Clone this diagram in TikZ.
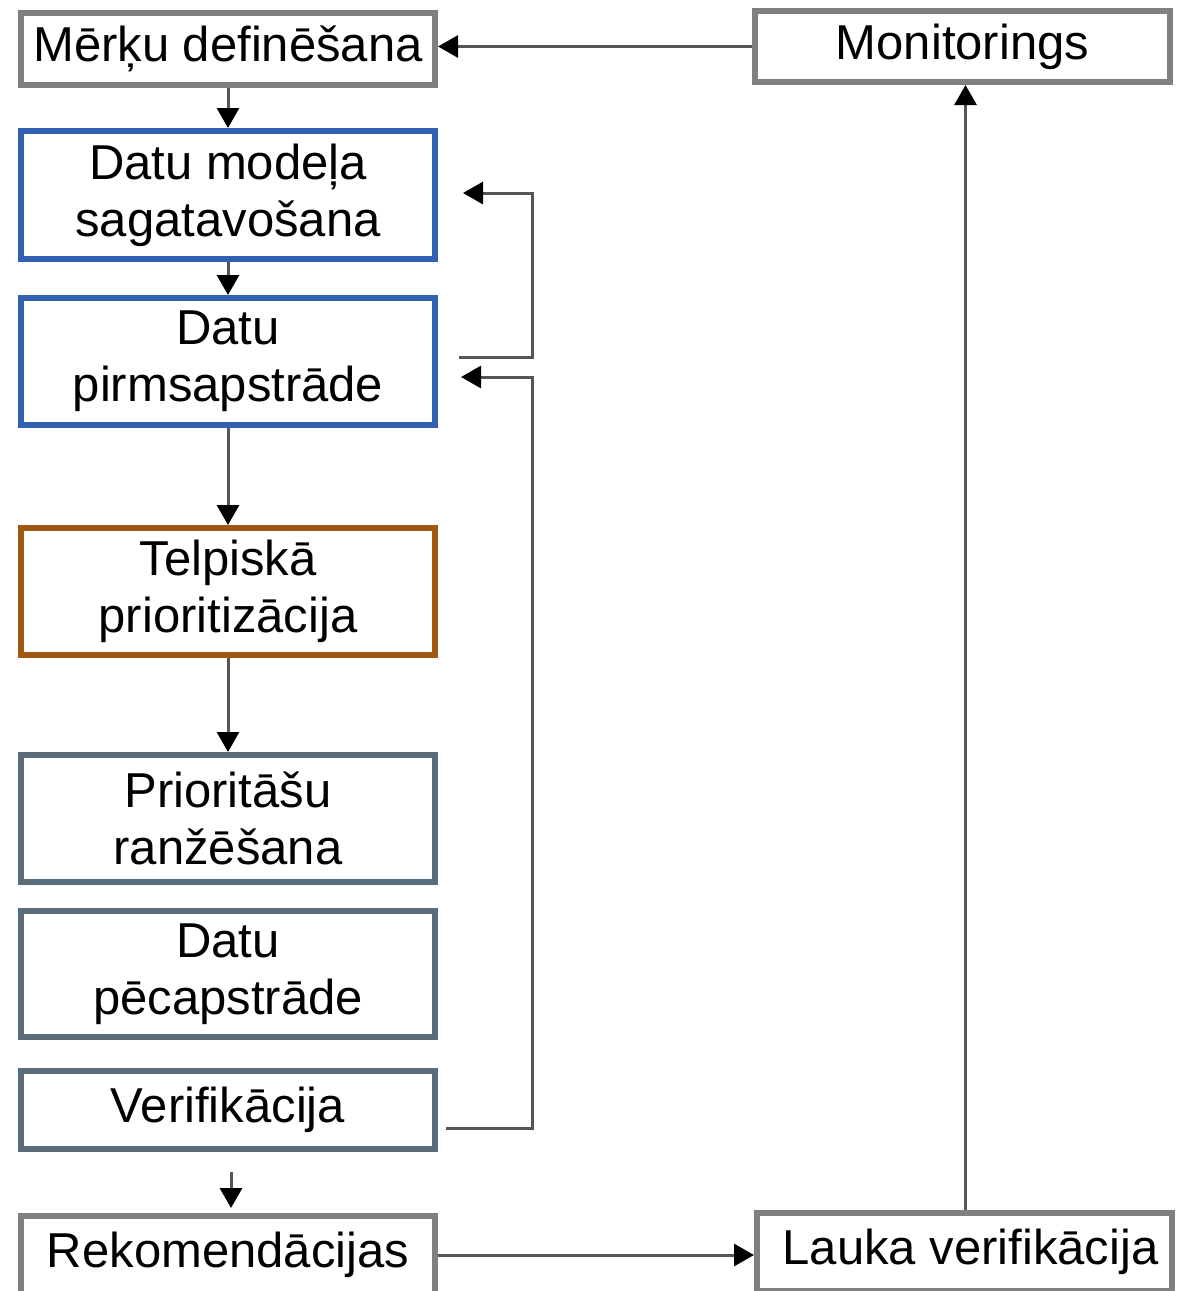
\documentclass[tikz,border=0pt]{standalone}
\usepackage{fontspec}
\setmainfont{Liberation Sans}
\usetikzlibrary{arrows.meta}
\definecolor{boxgray}{RGB}{128,128,128}
\definecolor{boxblue}{RGB}{50,96,178}
\definecolor{boxbrown}{RGB}{160,88,18}
\definecolor{boxslate}{RGB}{90,108,122}
\definecolor{linegray}{RGB}{85,85,85}
\begin{document}
\begin{tikzpicture}[x=1pt,y=-1pt,
  box/.style={draw, line width=6pt, fill=white, minimum width=414pt,
    align=center, inner sep=0pt, font=\fontsize{49}{57}\selectfont},
  graybox/.style={box, draw=boxgray},
  bluebox/.style={box, draw=boxblue},
  brownbox/.style={box, draw=boxbrown},
  slatebox/.style={box, draw=boxslate},
  conn/.style={draw=linegray, line width=3pt,
    -{Triangle[length=20pt,width=22pt,color=black]}}]
\fill[white] (0,0) rectangle (1181,1291);
\useasboundingbox (0,0) rectangle (1181,1291);
\clip (0,0) rectangle (1181,1291);

% left column of process steps
\node[graybox,  minimum height=72pt]  (merk)  at (228,49)    {Mērķu definēšana};
\node[bluebox,  minimum height=128pt] (dmod)  at (228,195)   {Datu modeļa\\sagatavošana};
\node[bluebox,  minimum height=127pt] (pirm)  at (228,361.5) {Datu\\pirmsapstrāde};
\node[brownbox, minimum height=127pt] (telp)  at (228,591.5) {Telpiskā\\prioritizācija};
\node[slatebox, minimum height=127pt] (rank)  at (228,818.5) {Prioritāšu\\ranžēšana};
\node[slatebox, minimum height=126pt] (pec)   at (228,974)   {Datu\\pēcapstrāde};
\node[slatebox, minimum height=78pt]  (verif) at (228,1110)  {Verifikācija};
\node[graybox,  minimum height=78pt]  (rek)   at (228,1255)  {Rekomendācijas};

% right column
\node[graybox, minimum width=415pt, minimum height=71pt] (mon)   at (962.5,46.5) {Monitorings};
\node[graybox, minimum width=415pt, minimum height=78pt] (lauka) at (964.5,1252) {\hspace*{12pt}Lauka verifikācija};

% feedback rail
\coordinate (rail)   at (532,0);
\coordinate (l1from) at (459,357);
\coordinate (l1to)   at (463,193);
\coordinate (l2from) at (446,1128);
\coordinate (l2to)   at (461,377);

% main flow
\draw[conn] (merk.south) -- (dmod.north);
\draw[conn] (dmod.south) -- (pirm.north);
\draw[conn] (pirm.south) -- (telp.north);
\draw[conn] (telp.south) -- (rank.north);
\draw[conn, shorten <=20pt, shorten >=5pt] ([xshift=3pt]verif.south) -- ([xshift=3pt]rek.north);

% loops back to data preparation
\draw[conn] (l1from) -- (l1from -| rail) |- (l1to);
\draw[conn] (l2from) -- (l2from -| rail) |- (l2to);

% field loop
\draw[conn] (rek.east) -- (rek.east -| lauka.west);
\draw[conn] ([xshift=1pt]lauka.north) -- ([xshift=1pt]lauka.north |- mon.south);
\draw[conn] (mon.west) -- (mon.west -| merk.east);
\end{tikzpicture}
\end{document}
